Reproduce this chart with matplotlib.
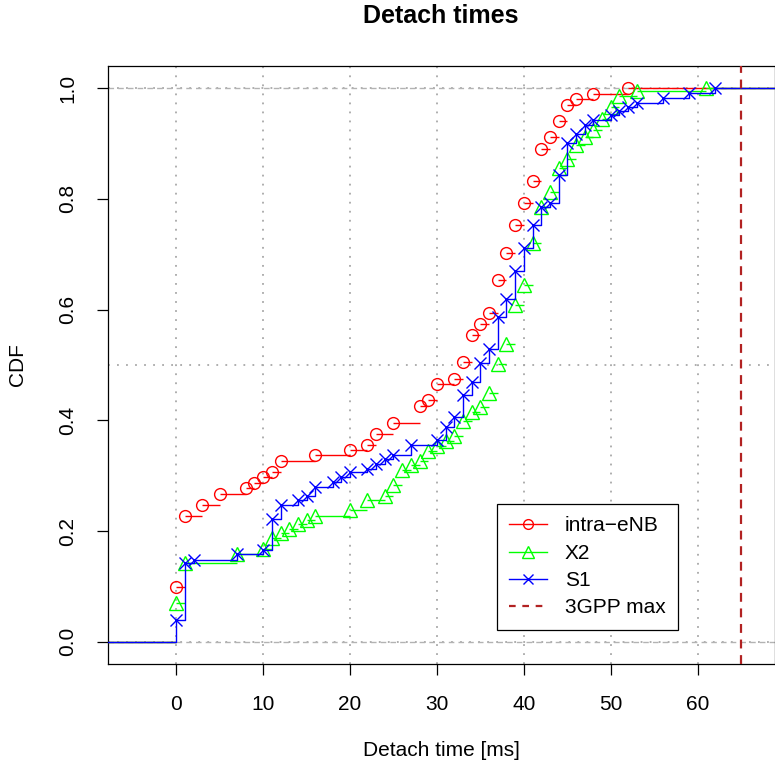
import numpy as np
import matplotlib.pyplot as plt
from matplotlib.lines import Line2D

plt.rcParams['font.family'] = ['Liberation Sans', 'DejaVu Sans']

# ecdf steps: detach time (ms) and CDF value at that step
intra_x = [0, 1, 3, 5, 8, 9, 10, 11, 12, 16, 20, 22, 23, 25, 28, 29, 30, 32, 33, 34,
           35, 36, 37, 38, 39, 40, 41, 42, 43, 44, 45, 46, 48, 52]
intra_y = [0.099, 0.228, 0.248, 0.267, 0.277, 0.287, 0.297, 0.307, 0.327, 0.337,
           0.347, 0.356, 0.376, 0.396, 0.426, 0.436, 0.465, 0.475, 0.505, 0.554,
           0.574, 0.594, 0.653, 0.703, 0.752, 0.792, 0.832, 0.891, 0.911, 0.941,
           0.970, 0.980, 0.990, 1.0]

x2_x = [0, 1, 7, 10, 11, 12, 13, 14, 15, 16, 20, 22, 24, 25, 26, 27, 28, 29, 30, 31,
        32, 33, 34, 35, 36, 37, 38, 39, 40, 41, 42, 43, 44, 45, 46, 47, 48, 49, 50,
        51, 53, 61]
x2_y = [0.071, 0.142, 0.159, 0.167, 0.187, 0.196, 0.204, 0.212, 0.220, 0.228,
        0.238, 0.256, 0.264, 0.283, 0.310, 0.319, 0.327, 0.345, 0.353, 0.362,
        0.371, 0.398, 0.415, 0.424, 0.449, 0.502, 0.538, 0.608, 0.644, 0.721,
        0.785, 0.812, 0.855, 0.872, 0.897, 0.911, 0.925, 0.944, 0.966, 0.985,
        0.995, 1.0]

s1_x = [0, 1, 2, 7, 10, 11, 12, 14, 15, 16, 18, 19, 20, 22, 23, 24, 25, 27, 30, 31,
        32, 33, 34, 35, 36, 37, 38, 39, 40, 41, 42, 43, 44, 45, 46, 47, 48, 50, 51,
        52, 53, 56, 59, 62]
s1_y = [0.040, 0.142, 0.148, 0.159, 0.165, 0.222, 0.248, 0.256, 0.263, 0.279,
        0.289, 0.297, 0.306, 0.313, 0.322, 0.330, 0.338, 0.356, 0.364, 0.388,
        0.406, 0.446, 0.470, 0.504, 0.528, 0.586, 0.619, 0.669, 0.711, 0.753,
        0.786, 0.792, 0.843, 0.901, 0.918, 0.934, 0.943, 0.951, 0.958, 0.966,
        0.974, 0.982, 0.991, 1.0]

limit_3gpp = 65

x_left, x_right = -7.85, 68.9
xticks = [0, 10, 20, 30, 40, 50, 60]
yticks = [0.0, 0.2, 0.4, 0.6, 0.8, 1.0]

fig = plt.figure(figsize=(7.75, 7.70), dpi=100)
ax = fig.add_axes([108 / 775, 106 / 770, 667 / 775, 598 / 770])
ax.set_xlim(x_left, x_right)
ax.set_ylim(-0.04, 1.04)

# grid like R grid(): dotted gray
for xv in xticks:
    ax.axvline(xv, color='#a8a8a8', lw=1.3, linestyle=(0, (1, 4)), zorder=1)
for yv in [0.0, 0.5, 1.0]:
    ax.axhline(yv, color='#a8a8a8', lw=1.3, linestyle=(0, (1, 4)), zorder=1)
# 0 and 1 lines of plot.ecdf
for yv in [0.0, 1.0]:
    ax.axhline(yv, color='#b3b3b3', lw=1.0, linestyle=(0, (4, 3)), zorder=1)


def segments(xs, ys):
    xs = np.asarray(xs, float)
    ys = np.asarray(ys, float)
    starts = np.concatenate([[x_left], xs])
    ends = np.concatenate([xs, [x_right]])
    levels = np.concatenate([[0.0], ys])
    return starts, ends, levels


# intra-eNB, no verticals
st, en, lv = segments(intra_x, intra_y)
ax.hlines(lv, st, en, color='red', lw=1.0, zorder=3)
ax.plot(intra_x, intra_y, 'o', ms=8.5, mfc='none', mec='red', mew=1.0, zorder=3)

# X2, no verticals
st, en, lv = segments(x2_x, x2_y)
ax.hlines(lv, st, en, color='#00ff00', lw=1.0, zorder=3)
ax.plot(x2_x, x2_y, '^', ms=10, mfc='none', mec='#00ff00', mew=1.0, zorder=3)

# S1 with verticals
sx = np.concatenate([[x_left], s1_x, [x_right]])
sy = np.concatenate([[0.0], s1_y, [1.0]])
ax.step(sx, sy, where='post', color='blue', lw=1.0, zorder=4)
ax.plot(s1_x, s1_y, 'x', ms=8, mec='blue', mew=1.0, zorder=4)

ax.axvline(limit_3gpp, color='#b22222', lw=1.6, linestyle=(0, (4, 3)), zorder=5)

ax.set_xticks(xticks)
ax.set_xticklabels([str(v) for v in xticks])
ax.set_yticks(yticks)
ax.set_yticklabels(['%.1f' % v for v in yticks], rotation=90, va='center')
ax.tick_params(direction='out', length=8, width=0.9, labelsize=15, pad=14)
for sp in ax.spines.values():
    sp.set_linewidth(0.9)

fig.text(441 / 775, 1 - 16 / 770, 'Detach times', ha='center', va='center',
         fontsize=18, fontweight='bold')
fig.text(441 / 775, 1 - 750 / 770, 'Detach time [ms]', ha='center', va='center',
         fontsize=15)
fig.text(18 / 775, 1 - 365 / 770, 'CDF', ha='center', va='center',
         rotation=90, fontsize=15)

handles = [
    Line2D([], [], color='red', lw=1.0, marker='o', ms=7, mfc='none', mew=1.0),
    Line2D([], [], color='#00ff00', lw=1.0, marker='^', ms=8, mfc='none', mew=1.0),
    Line2D([], [], color='blue', lw=1.0, marker='x', ms=7, mew=1.0),
    Line2D([], [], color='#b22222', lw=1.6, linestyle=(0, (3, 3))),
]
labels = ['intra\u2212eNB', 'X2', 'S1', '3GPP max']
leg = ax.legend(handles, labels, loc='upper left', bbox_to_anchor=(0.5832, 0.2676),
                borderaxespad=0, fontsize=15, frameon=True, fancybox=False,
                edgecolor='black', framealpha=1, handlelength=1.8,
                handletextpad=0.85, labelspacing=0.4, borderpad=0.6)
leg.get_frame().set_linewidth(0.9)
leg.set_zorder(10)

fig.savefig('out.png', dpi=100)
